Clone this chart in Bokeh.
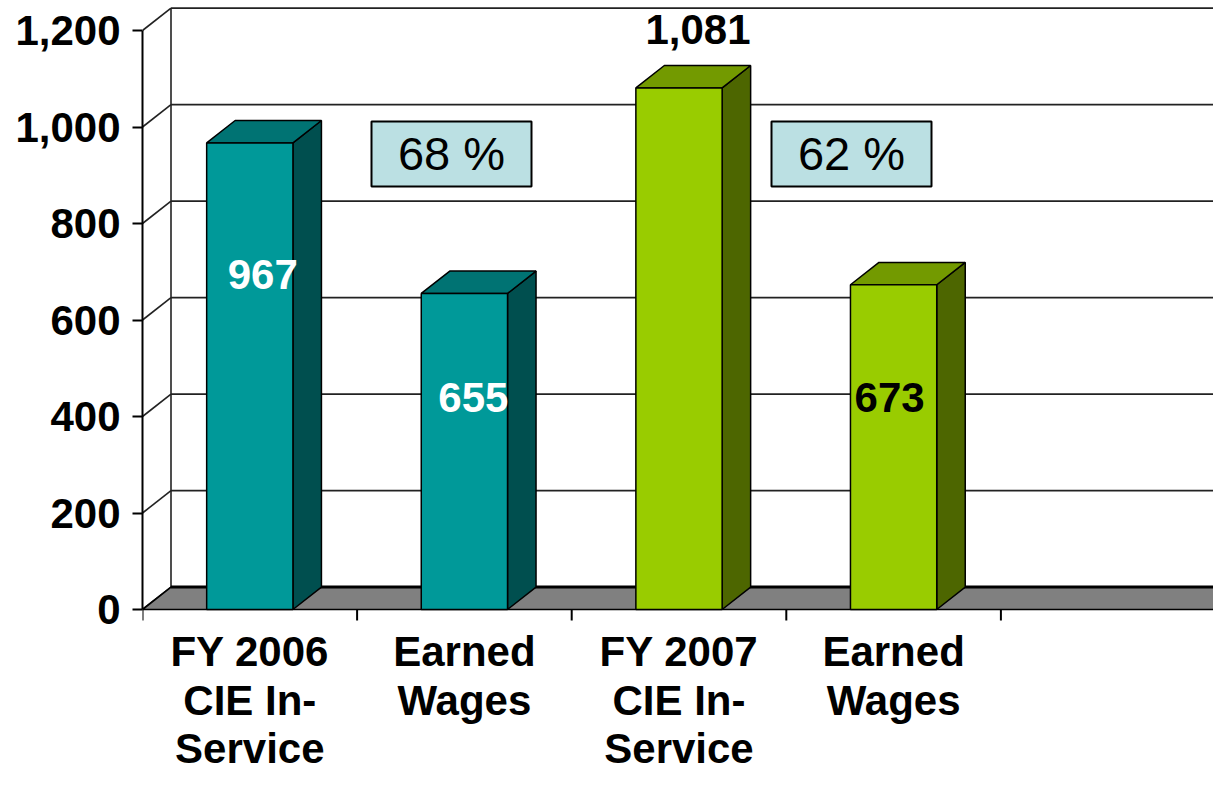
from bokeh.plotting import figure
from bokeh.models import Range1d, FixedTicker, NumeralTickFormatter, ColumnDataSource
from bokeh.core.properties import value
from bokeh.embed import file_html
from bokeh.resources import INLINE

# ---------------- data ----------------
categories = [["FY 2006", "CIE In-", "Service"],
              ["Earned", "Wages"],
              ["FY 2007", "CIE In-", "Service"],
              ["Earned", "Wages"]]
values = [967, 655, 1081, 673]
value_labels = ["967", "655", "1,081", "673"]
ratio_labels = ["68 %", "62 %"]
y_ticks = [0, 200, 400, 600, 800, 1000, 1200]
n_slots = 5

# ---------------- styles / layout ----------------
FONT = "Liberation Sans"
front_colors = ["#009999", "#009999", "#99CC00", "#99CC00"]
side_colors = ["#004F4F", "#004F4F", "#4D6600", "#4D6600"]
top_colors = ["#007373", "#007373", "#739A00", "#739A00"]
label_colors = ["white", "white", "black", "black"]

W, H = 1213, 774
LEFT = 142            # frame left edge in figure px
ZERO_Y = 609          # figure px of value 0 (front plane)
PX_X = 214.6          # px per category slot
PX_Y = 579 / 1200     # px per value unit
DX = 28.5 / PX_X      # depth offset (slot units)
DY = 22.4 / PX_Y      # depth offset (value units)
HW = 0.201            # half bar width (slot units)
BASE_FIX_42 = 16      # px correction of rendered alphabetic baseline (42px font)
BASE_FIX_47 = 19


def img_y(py):
    """figure pixel row -> value coordinate"""
    return (ZERO_Y - py) / PX_Y


p = figure(width=W, height=H, output_backend="svg", toolbar_location=None,
           x_range=Range1d(0, (W - LEFT) / PX_X),
           y_range=Range1d(-(H - ZERO_Y) / PX_Y, ZERO_Y / PX_Y),
           x_axis_location=None, min_border_left=LEFT, min_border_right=0,
           min_border_top=0, min_border_bottom=0)
p.outline_line_color = None
p.grid.visible = False
p.background_fill_color = "white"
p.border_fill_color = "white"

# y axis (front)
ax = p.yaxis[0]
ax.ticker = FixedTicker(ticks=y_ticks)
ax.formatter = NumeralTickFormatter(format="0,0")
ax.bounds = (0, 1200)
ax.axis_line_color = "black"
ax.axis_line_width = 2
ax.major_tick_line_width = 2
ax.major_tick_out = 10
ax.major_tick_in = 0
ax.minor_tick_line_color = None
ax.major_label_standoff = 12
ax.major_label_text_font = FONT
ax.major_label_text_font_style = "bold"
ax.major_label_text_font_size = "42px"
ax.major_label_text_color = "black"

x_end = n_slots + DX + 1
# back wall gridlines and diagonal wall lines
p.segment(x0=[DX] * len(y_ticks), y0=[t + DY for t in y_ticks],
          x1=[x_end] * len(y_ticks), y1=[t + DY for t in y_ticks],
          line_color="#222222", line_width=1.6)
p.segment(x0=[0] * len(y_ticks), y0=y_ticks,
          x1=[DX] * len(y_ticks), y1=[t + DY for t in y_ticks],
          line_color="#222222", line_width=1.6)
p.segment(x0=[DX], y0=[DY], x1=[DX], y1=[y_ticks[-1] + DY],
          line_color="#222222", line_width=1.6)

# floor
p.patch(x=[0, n_slots, n_slots + DX, DX], y=[0, 0, DY, DY],
        fill_color="#808080", line_color="black", line_width=1.6)
p.segment(x0=[DX], y0=[DY], x1=[x_end], y1=[DY], line_color="black", line_width=3)

# x ticks
p.segment(x0=list(range(n_slots + 1)), y0=[0] * (n_slots + 1),
          x1=list(range(n_slots + 1)), y1=[-11 / PX_Y] * (n_slots + 1),
          line_color="black", line_width=2)

# bars
centers = [i + 0.5 for i in range(len(values))]
src = ColumnDataSource(dict(
    left=[c - HW for c in centers], right=[c + HW for c in centers],
    top=values, bottom=[0] * len(values), color=front_colors))
side_xs = [[c + HW, c + HW + DX, c + HW + DX, c + HW] for c in centers]
side_ys = [[0, DY, v + DY, v] for v in values]
top_xs = [[c - HW, c - HW + DX, c + HW + DX, c + HW] for c in centers]
top_ys = [[v, v + DY, v + DY, v] for v in values]
p.patches(xs=side_xs, ys=side_ys, fill_color=side_colors, line_color="black", line_width=1.5)
p.patches(xs=top_xs, ys=top_ys, fill_color=top_colors, line_color="black", line_width=1.5)
p.quad(left="left", right="right", top="top", bottom="bottom", source=src,
       fill_color="color", line_color="black", line_width=1.5)

# value labels (rendered baseline rows in px, x offsets in px)
label_x_px = [13, 9, 19, -4]
label_base_px = [290, 413, 45, 413]
p.text(x=[c + o / PX_X for c, o in zip(centers, label_x_px)],
       y=[img_y(b - BASE_FIX_42) for b in label_base_px],
       text=value_labels, text_color=label_colors,
       text_font=value(FONT), text_font_style="bold", text_font_size="42px",
       text_align="center", text_baseline="alphabetic")

# category labels
line_base_px = [667, 716, 764]
cx, cy, ct = [], [], []
for c, lines in zip(centers, categories):
    for j, ln in enumerate(lines):
        cx.append(c)
        cy.append(img_y(line_base_px[j] - BASE_FIX_42))
        ct.append(ln)
p.text(x=cx, y=cy, text=ct, text_color="black", text_font=value(FONT),
       text_font_style="bold", text_font_size="42px",
       text_align="center", text_baseline="alphabetic")

# ratio boxes
box_l = [(371 - LEFT) / PX_X, (771 - LEFT) / PX_X]
box_r = [(531 - LEFT) / PX_X, (931 - LEFT) / PX_X]
box_t = [img_y(121)] * 2
box_b = [img_y(186)] * 2
p.quad(left=box_l, right=box_r, top=box_t, bottom=box_b,
       fill_color="#BBE0E3", line_color="black", line_width=2)
p.text(x=[(l + r) / 2 for l, r in zip(box_l, box_r)],
       y=[img_y(172 - BASE_FIX_47)] * 2, text=ratio_labels, text_color="black",
       text_font=value(FONT), text_font_size="47px",
       text_align="center", text_baseline="alphabetic")

open("out.html", "w").write(file_html(p, INLINE))
